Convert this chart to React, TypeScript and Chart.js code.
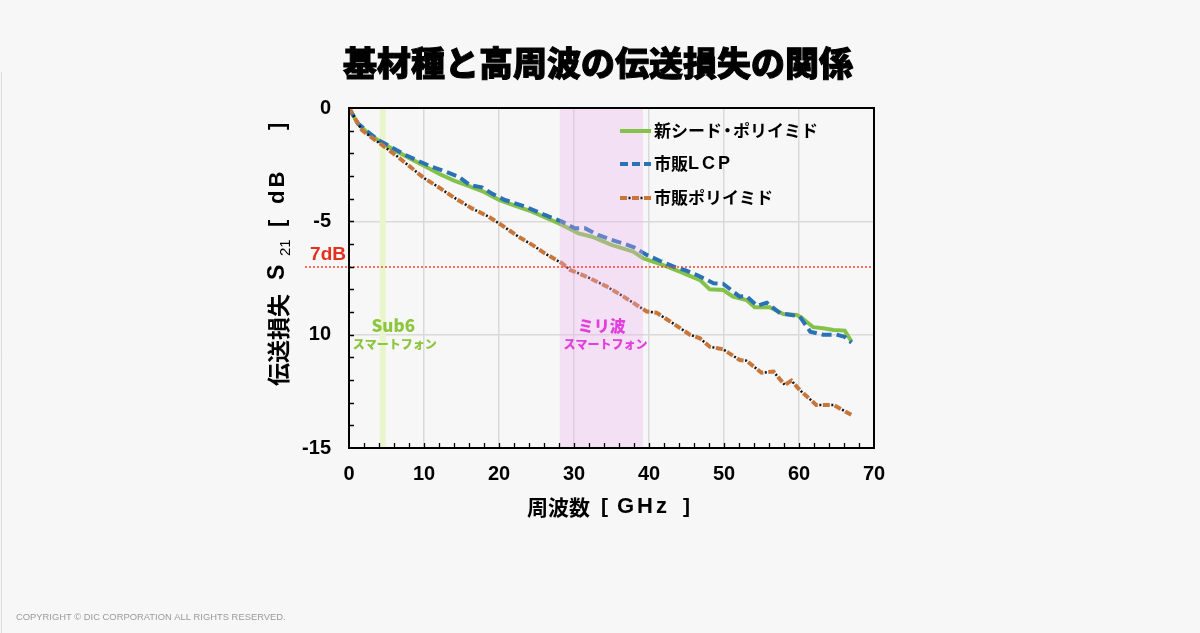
import React, { useEffect, useRef } from "react";
import { Chart, registerables } from "chart.js";

Chart.register(...registerables);

// ---------- data ----------
const TITLE = "基材種と高周波の伝送損失の関係";
const X_TITLE_MAIN = "周波数";
const X_TITLE_UNIT = ["[", "GHz", "]"];
const Y_TITLE_MAIN = "伝送損失";
const Y_TITLE_S = "S";
const Y_TITLE_SUB = "21";
const Y_TITLE_UNIT = ["[", "dB", "]"];
const COPYRIGHT = "COPYRIGHT © DIC CORPORATION ALL RIGHTS RESERVED.";

const SERIES_NAMES = ["新シード・ポリイミド", "市販LCP", "市販ポリイミド"];

const X_TICK_VALUES = [0, 10, 20, 30, 40, 50, 60, 70];
const Y_TICK_VALUES = [0, -5, -10, -15];
const Y_TICK_LABELS = ["0", "-5", "10", "-15"];

const greenFreq = [0, 0.4, 1.2, 2.5, 4, 6, 8, 10, 12, 14, 16, 18, 20, 22, 24.4, 26, 28, 30.6, 32.4, 35, 37.9, 39.2, 41.9, 44.1, 46.8, 48.1, 49.9, 51.2, 53, 54.1, 56.1, 57.9, 59.7, 60.3, 61.9, 63.2, 64.6, 66.1, 67];
const greenLoss = [0, -0.23, -0.7, -1.1, -1.45, -1.85, -2.2, -2.55, -2.9, -3.2, -3.45, -3.7, -4.05, -4.3, -4.57, -4.8, -5.09, -5.53, -5.68, -6.04, -6.34, -6.63, -6.93, -7.22, -7.59, -8.0, -8.03, -8.32, -8.47, -8.79, -8.79, -9.09, -9.13, -9.24, -9.67, -9.72, -9.79, -9.82, -10.3];

const blueFreq = [0, 0.4, 1.2, 2.5, 3.9, 5.5, 7.5, 9, 11, 12.8, 14.6, 16.1, 17.7, 19.2, 20.8, 23.5, 26.1, 28.4, 30.1, 31.5, 33.2, 35, 36.5, 38, 39.7, 41.5, 43.3, 44.8, 46.4, 48.6, 49.9, 52.1, 53, 54.4, 55.7, 57.5, 59, 60.1, 61.5, 63.2, 65, 66.1, 67];
const blueLoss = [0, -0.23, -0.68, -1.05, -1.41, -1.7, -2.07, -2.3, -2.59, -2.8, -3.03, -3.4, -3.5, -3.8, -4.06, -4.35, -4.72, -5.01, -5.31, -5.31, -5.6, -5.82, -5.97, -6.15, -6.48, -6.75, -7.0, -7.15, -7.37, -7.73, -7.76, -8.32, -8.3, -8.73, -8.59, -9.06, -9.13, -9.2, -9.87, -10.0, -10.0, -10.1, -10.35];

const orangeFreq = [0, 0.4, 1.7, 3, 4.4, 6.5, 8.4, 10, 11.5, 14, 16.4, 18.6, 20.5, 22.6, 24.5, 26.1, 28.4, 29.5, 30.6, 32.1, 34.4, 36.6, 39.7, 41, 43.2, 45.5, 46.8, 48.1, 49.9, 52.1, 53, 55, 56.6, 58.1, 59, 60.1, 62.3, 64.6, 67];
const orangeLoss = [0, -0.23, -0.97, -1.3, -1.63, -2.15, -2.66, -3.09, -3.4, -3.95, -4.43, -4.79, -5.2, -5.68, -6.05, -6.41, -6.85, -7.15, -7.29, -7.51, -7.88, -8.32, -8.98, -9.03, -9.5, -10.01, -10.16, -10.53, -10.65, -11.12, -11.15, -11.68, -11.63, -12.22, -12.03, -12.44, -13.1, -13.1, -13.54];

const SUB6_BAND = [4.1, 4.9];
const MMW_BAND = [28.1, 39.2];
const THRESHOLD = -7;
const THRESHOLD_LABEL = "7dB";
const SUB6_LABEL = ["Sub6", "スマートフォン"];
const MMW_LABEL = ["ミリ波", "スマートフォン"];

// ---------- styles ----------
const BG = "#f7f7f7";
const GREEN = "#85c24a";
const BLUE = "#2a72b5";
const ORANGE = "#c9763a";
const JP = "'Noto Sans CJK JP', 'Noto Sans', sans-serif";
const LAT = "'Liberation Sans', Arial, sans-serif";

const toPts = (xs: number[], ys: number[]) => xs.map((x, i) => ({ x, y: ys[i] }));

// draw mixed CJK / Latin legend text with a wide latin face
function drawMixed(ctx: CanvasRenderingContext2D, text: string, x0: number, y0: number) {
  let cx = x0;
  for (const ch of text) {
    if (/[A-Za-z0-9]/.test(ch)) {
      ctx.font = `bold 18px ${LAT}`;
      ctx.fillText(ch, cx, y0);
      cx += ctx.measureText(ch).width + 3;
    } else if (ch === "・") {
      ctx.font = `bold 17px ${JP}`;
      ctx.fillText(ch, cx - 3, y0);
      cx += 11;
    } else {
      ctx.font = `bold 17px ${JP}`;
      ctx.fillText(ch, cx, y0);
      cx += ctx.measureText(ch).width;
    }
  }
}

const decor = {
  id: "decor",
  beforeDraw(chart: any) {
    const ctx = chart.ctx;
    ctx.save();
    ctx.fillStyle = BG;
    ctx.fillRect(0, 0, chart.width, chart.height);
    ctx.strokeStyle = "#dcdcdc";
    ctx.lineWidth = 1;
    ctx.beginPath();
    ctx.moveTo(1.5, 72);
    ctx.lineTo(1.5, chart.height);
    ctx.stroke();
    ctx.restore();
  },
  beforeDatasetsDraw(chart: any) {
    const ctx = chart.ctx;
    const x = chart.scales.x;
    const a = chart.chartArea;
    ctx.save();
    ctx.fillStyle = "#e9f5cc";
    const x0 = x.getPixelForValue(SUB6_BAND[0]);
    const x1 = x.getPixelForValue(SUB6_BAND[1]);
    ctx.fillRect(x0, a.top, x1 - x0, a.bottom - a.top);
    ctx.restore();
  },
  afterDatasetsDraw(chart: any) {
    const ctx = chart.ctx;
    const x = chart.scales.x;
    const y = chart.scales.y;
    const a = chart.chartArea;
    ctx.save();
    // mmWave band overlay
    ctx.fillStyle = "rgba(238,171,241,0.3)";
    const m0 = x.getPixelForValue(MMW_BAND[0]);
    const m1 = x.getPixelForValue(MMW_BAND[1]);
    ctx.fillRect(m0, a.top, m1 - m0, a.bottom - a.top);

    // threshold line
    const ty = Math.round(y.getPixelForValue(THRESHOLD));
    ctx.strokeStyle = "#f04434";
    ctx.lineWidth = 1.5;
    ctx.setLineDash([2, 2]);
    ctx.beginPath();
    ctx.moveTo(a.left - 44, ty);
    ctx.lineTo(a.right, ty);
    ctx.stroke();
    ctx.setLineDash([]);
    ctx.fillStyle = "#e3301f";
    ctx.font = `bold 19px ${LAT}`;
    ctx.textAlign = "right";
    ctx.textBaseline = "middle";
    ctx.fillText(THRESHOLD_LABEL, a.left - 3, ty - 12);

    // frame
    ctx.strokeStyle = "#000";
    ctx.lineWidth = 2;
    ctx.strokeRect(a.left, a.top, a.right - a.left, a.bottom - a.top);

    // inward minor ticks
    ctx.lineWidth = 1.3;
    ctx.beginPath();
    for (let v = -14; v <= -1; v++) {
      const py = Math.round(y.getPixelForValue(v)) + 0.5;
      ctx.moveTo(a.left, py);
      ctx.lineTo(a.left + 5, py);
    }
    for (let v = 2; v <= 68; v += 2) {
      const px = Math.round(x.getPixelForValue(v)) + 0.5;
      ctx.moveTo(px, a.bottom);
      ctx.lineTo(px, a.bottom - 5);
    }
    ctx.stroke();

    // band labels
    ctx.textAlign = "center";
    ctx.textBaseline = "middle";
    const ly1 = y.getPixelForValue(-9.6);
    const ly2 = y.getPixelForValue(-10.45);
    ctx.fillStyle = "#8cc63f";
    ctx.font = `900 17px ${JP}`;
    ctx.fillText(SUB6_LABEL[0], x.getPixelForValue(5.9), ly1);
    ctx.font = `900 12px ${JP}`;
    ctx.fillText(SUB6_LABEL[1], x.getPixelForValue(6.1), ly2);
    ctx.fillStyle = "#e23fdc";
    ctx.font = `900 16px ${JP}`;
    ctx.fillText(MMW_LABEL[0], x.getPixelForValue(33.7), ly1);
    ctx.font = `900 12px ${JP}`;
    ctx.fillText(MMW_LABEL[1], x.getPixelForValue(34.2), ly2);

    // legend
    const lx0 = 620;
    const lx1 = 651;
    const rows = [131, 164, 198];
    ctx.lineWidth = 4;
    ctx.strokeStyle = GREEN;
    ctx.beginPath();
    ctx.moveTo(lx0, rows[0]);
    ctx.lineTo(lx1, rows[0]);
    ctx.stroke();
    ctx.strokeStyle = BLUE;
    ctx.setLineDash([8, 4]);
    ctx.beginPath();
    ctx.moveTo(lx0, rows[1]);
    ctx.lineTo(lx1, rows[1]);
    ctx.stroke();
    ctx.strokeStyle = ORANGE;
    ctx.setLineDash([7, 5]);
    ctx.beginPath();
    ctx.moveTo(lx0, rows[2]);
    ctx.lineTo(lx1, rows[2]);
    ctx.stroke();
    ctx.strokeStyle = "#111";
    ctx.lineWidth = 2.5;
    ctx.setLineDash([2, 10]);
    ctx.lineDashOffset = 3.5;
    ctx.beginPath();
    ctx.moveTo(lx0, rows[2]);
    ctx.lineTo(lx1, rows[2]);
    ctx.stroke();
    ctx.setLineDash([]);
    ctx.lineDashOffset = 0;
    ctx.fillStyle = "#000";
    ctx.textAlign = "left";
    SERIES_NAMES.forEach((n, i) => drawMixed(ctx, n, lx1 + 3, rows[i]));

    // main title (slightly thickened)
    ctx.textAlign = "center";
    ctx.font = `900 34px ${JP}`;
    ctx.strokeStyle = "#000";
    ctx.lineWidth = 1;
    ctx.fillText(TITLE, 598, 63);
    ctx.strokeText(TITLE, 598, 63);

    // x title: 周波数 [ GHz ]
    ctx.textAlign = "left";
    ctx.font = `bold 21px ${JP}`;
    ctx.fillText(X_TITLE_MAIN, 527, 507);
    ctx.font = `bold 21px ${LAT}`;
    ctx.fillText(X_TITLE_UNIT[0], 601, 507);
    ctx.font = `bold 22px ${LAT}`;
    (ctx as any).letterSpacing = "3px";
    ctx.fillText(X_TITLE_UNIT[1], 617, 507);
    (ctx as any).letterSpacing = "0px";
    ctx.font = `bold 21px ${LAT}`;
    ctx.fillText(X_TITLE_UNIT[2], 683, 507);

    // y title (rotated, with subscript); rotated x = -pageY
    ctx.save();
    ctx.translate(278, 0);
    ctx.rotate(-Math.PI / 2);
    ctx.textAlign = "left";
    ctx.font = `bold 23px ${JP}`;
    ctx.fillText(Y_TITLE_MAIN, -386, 0);
    ctx.font = `bold 23px ${LAT}`;
    ctx.fillText(Y_TITLE_S, -280, 0);
    ctx.font = `15px ${LAT}`;
    ctx.fillText(Y_TITLE_SUB, -256, 8);
    ctx.font = `bold 22px ${LAT}`;
    ctx.fillText(Y_TITLE_UNIT[0], -227, 0);
    (ctx as any).letterSpacing = "3px";
    ctx.fillText(Y_TITLE_UNIT[1], -204, 0);
    (ctx as any).letterSpacing = "0px";
    ctx.fillText(Y_TITLE_UNIT[2], -130, 0);
    ctx.restore();

    // copyright
    ctx.fillStyle = "#9a9a9a";
    ctx.font = `9.4px ${LAT}`;
    ctx.textAlign = "left";
    ctx.fillText(COPYRIGHT, 16, 617);
    ctx.restore();
  },
};

export default function App() {
  const ref = useRef<HTMLCanvasElement>(null);
  useEffect(() => {
    document.body.style.margin = "0";
    document.body.style.background = BG;
    const canvas = ref.current!;
    const chart = new Chart(canvas, {
      type: "line",
      data: {
        datasets: [
          {
            label: SERIES_NAMES[0],
            data: toPts(greenFreq, greenLoss),
            borderColor: GREEN,
            borderWidth: 4,
            pointRadius: 0,
            tension: 0,
            order: 3,
          },
          {
            label: SERIES_NAMES[1],
            data: toPts(blueFreq, blueLoss),
            borderColor: BLUE,
            borderWidth: 4,
            borderDash: [10, 5],
            pointRadius: 0,
            tension: 0,
            order: 2,
          },
          {
            label: SERIES_NAMES[2],
            data: toPts(orangeFreq, orangeLoss),
            borderColor: ORANGE,
            borderWidth: 4,
            borderDash: [7, 5],
            pointRadius: 0,
            tension: 0,
            order: 1,
          },
          {
            label: SERIES_NAMES[2] + "-dots",
            data: toPts(orangeFreq, orangeLoss),
            borderColor: "#111",
            borderWidth: 2.5,
            borderDash: [2, 10],
            borderDashOffset: 3.5,
            pointRadius: 0,
            tension: 0,
            order: 0,
          },
        ],
      },
      options: {
        animation: false,
        responsive: true,
        maintainAspectRatio: false,
        devicePixelRatio: 1,
        layout: { padding: { top: 108, right: 326, bottom: 0, left: 0 } },
        plugins: {
          legend: { display: false },
          tooltip: { enabled: false },
          title: { display: false },
        },
        scales: {
          x: {
            type: "linear",
            min: 0,
            max: 70,
            afterFit: (s: any) => {
              s.height = 633 - 448;
            },
            afterBuildTicks: (s: any) => {
              s.ticks = X_TICK_VALUES.map((v) => ({ value: v }));
            },
            ticks: {
              color: "#000",
              padding: 14,
              font: { family: LAT, size: 20, weight: "bold" },
              callback: (v: any) => String(v),
            },
            grid: {
              drawTicks: false,
              color: (c: any) => (c.tick && c.tick.value > 0 && c.tick.value < 70 ? "#dadada" : "rgba(0,0,0,0)"),
              lineWidth: 1.5,
            },
            border: { display: true, color: "#000", width: 2 },
          },
          y: {
            type: "linear",
            min: -15,
            max: 0,
            afterFit: (s: any) => {
              s.width = 349;
            },
            afterBuildTicks: (s: any) => {
              s.ticks = Y_TICK_VALUES.map((v) => ({ value: v }));
            },
            ticks: {
              color: "#000",
              padding: 18,
              font: { family: LAT, size: 20, weight: "bold" },
              callback: (v: any) => {
                const i = Y_TICK_VALUES.indexOf(Number(v));
                return i >= 0 ? Y_TICK_LABELS[i] : "";
              },
            },
            grid: {
              drawTicks: false,
              color: (c: any) => (c.tick && c.tick.value < 0 && c.tick.value > -15 ? "#dadada" : "rgba(0,0,0,0)"),
              lineWidth: 1.5,
            },
            border: { display: true, color: "#000", width: 2 },
          },
        },
      },
      plugins: [decor],
    } as any);
    return () => chart.destroy();
  }, []);
  return (
    <div style={{ width: 1200, height: 633, position: "relative", background: BG }}>
      <canvas ref={ref} />
    </div>
  );
}
